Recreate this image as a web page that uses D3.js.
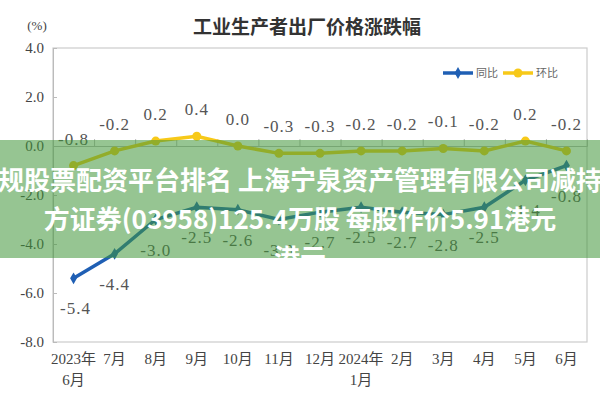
<!DOCTYPE html>
<html>
<head>
<meta charset="utf-8">
<script src="https://d3js.org/d3.v7.min.js"></script>
<style>
  body { margin: 0; background: #fff; }
  svg { display: block; }
</style>
</head>
<body>
<div id="viz"></div>
<script>
// data
var months = ["2023年\n6月", "7月", "8月", "9月", "10月", "11月", "12月", "2024年\n1月", "2月", "3月", "4月", "5月", "6月"];
var yoy = [-5.4, -4.4, -3.0, -2.5, -2.6, -3.0, -2.7, -2.5, -2.7, -2.8, -2.5, -1.4, -0.8];
var mom = [-0.8, -0.2, 0.2, 0.4, 0.0, -0.3, -0.3, -0.2, -0.2, -0.1, -0.2, 0.2, -0.2];
var yTicks = [4, 2, 0, -2, -4, -6, -8];
var seriesNames = ["同比", "环比"];
var overlayLines = ["规股票配资平台排名 上海宁泉资产管理有限公司减持", "方证券(03958)125.4万股 每股作价5.91港元", "港元"];

var W = 600, H = 400;
var margin = {top: 48, right: 13, bottom: 58, left: 53};
var width = W - margin.left - margin.right;
var height = H - margin.top - margin.bottom;
var blue = "#1f5fb4", yellow = "#f7c919";
var numFont = "'Liberation Serif', 'Noto Sans CJK SC', serif";

var svg = d3.select("#viz").append("svg")
  .attr("width", W).attr("height", H);

// title
svg.append("text")
  .attr("x", 307).attr("y", 34)
  .attr("text-anchor", "middle")
  .style("font-family", "'Noto Sans CJK SC', sans-serif")
  .style("font-size", "19px").style("font-weight", "bold")
  .style("fill", "#333")
  .text("工业生产者出厂价格涨跌幅");

svg.append("text")
  .attr("x", 37).attr("y", 30)
  .attr("text-anchor", "middle")
  .style("font-family", numFont).style("font-size", "13px").style("fill", "#444")
  .text("(%)");

var g = svg.append("g")
  .attr("transform", "translate(" + margin.left + "," + margin.top + ")");

var x = d3.scaleBand().domain(d3.range(months.length)).range([0, width]);
var xEdge = d3.scaleLinear().domain([0, months.length]).range([0, width]);
var y = d3.scaleLinear().domain([-8, 4]).range([height, 0]);
var cx = function(i) { return x(i) + x.bandwidth() / 2; };

// frame
g.append("rect")
  .attr("width", width).attr("height", height)
  .attr("fill", "none").attr("stroke", "#ccc").attr("stroke-width", 1.2);

// y axis
var yAxis = g.append("g")
  .call(d3.axisLeft(y).tickValues(yTicks).tickSize(-4).tickPadding(9).tickFormat(d3.format(".1f")));
yAxis.select(".domain").attr("stroke", "#bbb");
yAxis.selectAll(".tick line").attr("stroke", "#bbb");
yAxis.selectAll("text")
  .style("font-family", numFont).style("font-size", "15px").style("fill", "#444")
  .text(function(d) { return d3.format(".1f")(d).replace("−", "-"); });

// zero line with ticks at category edges
var zAxis = g.append("g")
  .attr("transform", "translate(0," + y(0) + ")")
  .call(d3.axisTop(xEdge).tickValues(d3.range(1, months.length)).tickSize(7).tickFormat(""));
zAxis.select(".domain").attr("stroke", "#bbb");
zAxis.selectAll(".tick line").attr("stroke", "#bbb");

// x labels
var xl = g.append("g").selectAll("text")
  .data(months).enter().append("text")
  .attr("x", function(d, i) { return cx(i); })
  .attr("y", height + 22)
  .attr("text-anchor", "middle")
  .style("font-family", numFont).style("font-size", "15px").style("fill", "#444");
xl.each(function(d) {
  var parts = d.split("\n");
  var t = d3.select(this);
  parts.forEach(function(p, k) {
    t.append("tspan").attr("x", t.attr("x")).attr("dy", k === 0 ? 0 : 21).text(p);
  });
});

// lines
var line = function(vals) {
  return d3.line().x(function(d, i) { return cx(i); }).y(function(d) { return y(d); })(vals);
};
g.append("path").attr("d", line(mom))
  .attr("fill", "none").attr("stroke", yellow).attr("stroke-width", 3.5);
g.append("path").attr("d", line(yoy))
  .attr("fill", "none").attr("stroke", blue).attr("stroke-width", 3.5);

g.selectAll(".mdot").data(mom).enter().append("circle")
  .attr("cx", function(d, i) { return cx(i); })
  .attr("cy", function(d) { return y(d); })
  .attr("r", 4.5).attr("fill", yellow);
g.selectAll(".ydot").data(yoy).enter().append("path")
  .attr("d", d3.symbol().type(d3.symbolDiamond).size(40))
  .attr("transform", function(d, i) { return "translate(" + cx(i) + "," + y(d) + ")"; })
  .attr("fill", blue);

// value labels
var fmt = function(d) { return d3.format(".1f")(d).replace("−", "-"); };
g.selectAll(".mlab").data(mom).enter().append("text")
  .attr("x", function(d, i) { return cx(i); })
  .attr("y", function(d) { return y(d) - 21; })
  .attr("text-anchor", "middle")
  .style("font-family", numFont).style("font-size", "17px").style("fill", "#555")
  .style("letter-spacing", "1px")
  .text(fmt);
g.selectAll(".ylab").data(yoy).enter().append("text")
  .attr("x", function(d, i) { return cx(i) + (i === 0 ? 2 : 0); })
  .attr("y", function(d) { return y(d) + 36; })
  .attr("text-anchor", "middle")
  .style("font-family", numFont).style("font-size", "17px").style("fill", "#555")
  .style("letter-spacing", "1px")
  .text(fmt);

// legend
var leg = svg.append("g").attr("transform", "translate(443,73)");
[blue, yellow].forEach(function(c, k) {
  var lg = leg.append("g").attr("transform", "translate(" + (k * 60) + ",0)");
  lg.append("line").attr("x1", 0).attr("x2", 30).attr("stroke", c).attr("stroke-width", 3.5);
  if (k === 0) {
    lg.append("path").attr("d", d3.symbol().type(d3.symbolDiamond).size(40))
      .attr("transform", "translate(15,0)").attr("fill", c);
  } else {
    lg.append("circle").attr("cx", 15).attr("r", 4.5).attr("fill", c);
  }
  lg.append("text").attr("x", 33).attr("y", 4)
    .style("font-family", "'Noto Sans CJK SC', sans-serif").style("font-size", "11px").style("fill", "#666")
    .text(seriesNames[k]);
});

// green banner overlay
svg.append("clipPath").attr("id", "bandclip")
  .append("rect").attr("x", 0).attr("y", 140).attr("width", W).attr("height", 118);
var ov = svg.append("g").attr("clip-path", "url(#bandclip)");
ov.append("rect").attr("x", 0).attr("y", 140).attr("width", W).attr("height", 118)
  .attr("fill", "rgb(64,150,56)").attr("fill-opacity", 0.55);
ov.selectAll("text").data(overlayLines).enter().append("text")
  .attr("x", 300)
  .attr("y", function(d, i) { return 190 + i * 39; })
  .attr("text-anchor", "middle")
  .style("font-family", "'Noto Sans CJK SC', sans-serif")
  .style("font-size", "26px").style("font-weight", "bold")
  .style("fill", "#fff")
  .text(function(d) { return d; });
</script>
</body>
</html>
